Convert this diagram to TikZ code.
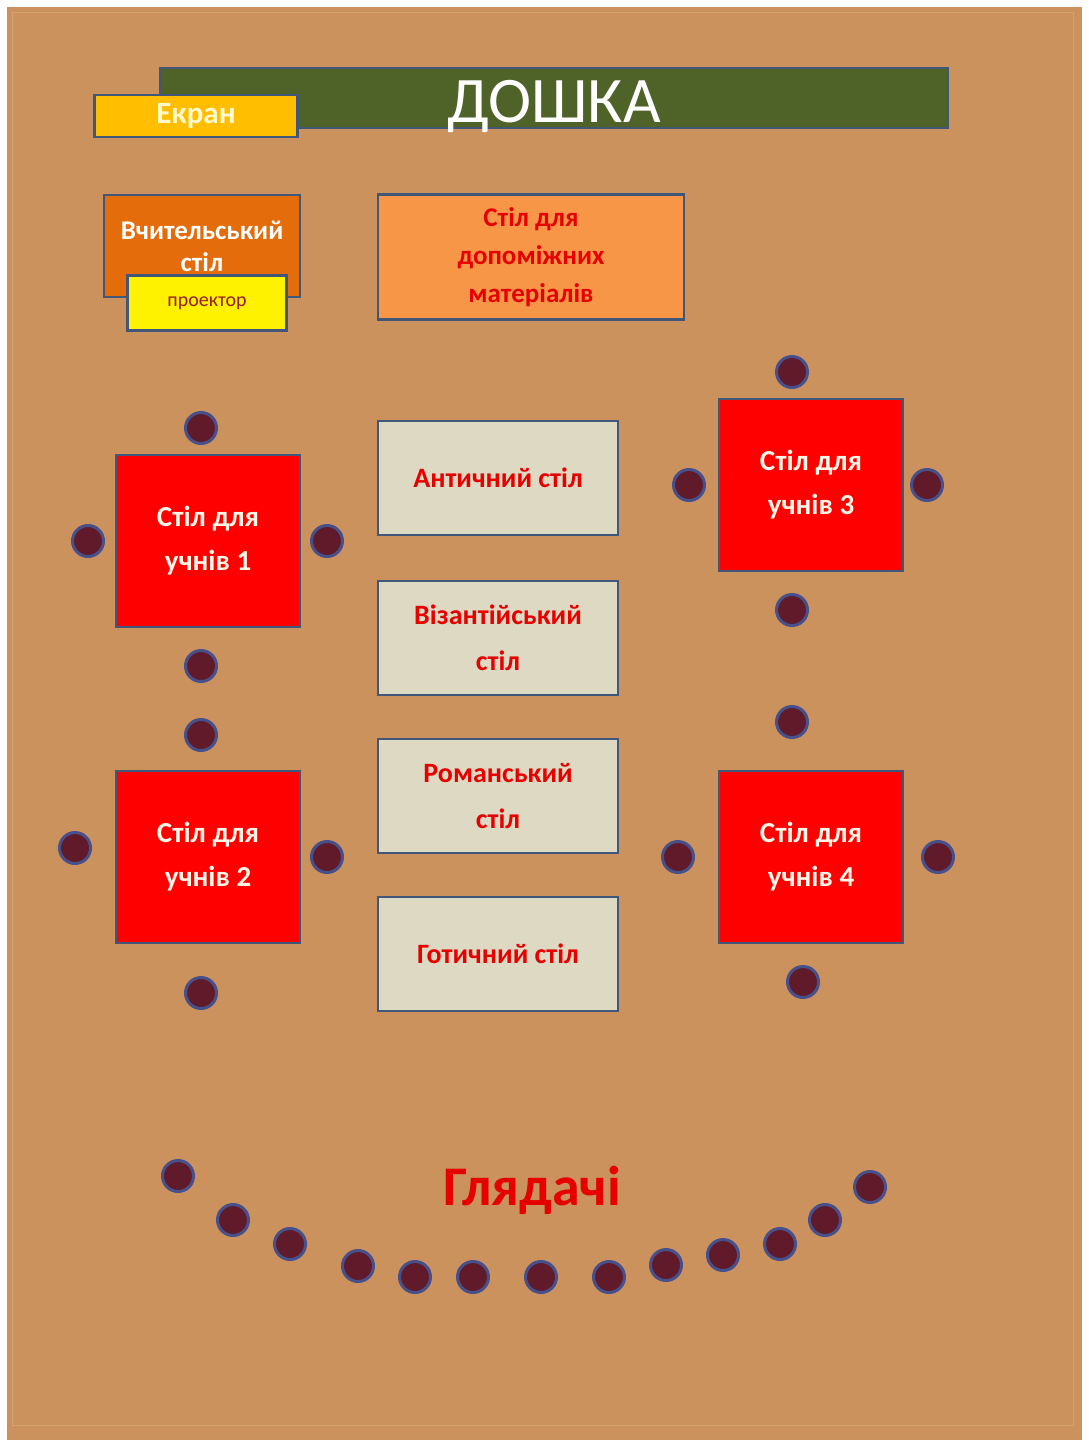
\documentclass[tikz,border=0pt]{standalone}
\usepackage{fontspec}
\setmainfont{Carlito}
\usepackage{tikz}
\usetikzlibrary{shapes}
\usepackage{xcolor}

\definecolor{cork}{RGB}{203,146,94}
\definecolor{corkline}{RGB}{212,162,112}
\definecolor{boardgreen}{RGB}{79,98,40}
\definecolor{edgeblue}{RGB}{65,87,122}
\definecolor{screenyellow}{RGB}{255,190,0}
\definecolor{teacherorange}{RGB}{228,108,10}
\definecolor{auxorange}{RGB}{247,150,70}
\definecolor{stylebeige}{RGB}{221,217,195}
\definecolor{chairred}{RGB}{96,26,42}
\definecolor{chairblue}{RGB}{70,80,140}
\definecolor{labelred}{RGB}{230,0,0}

\begin{document}
\begin{tikzpicture}[x=1pt,y=-1pt,line width=2.5pt,
  box/.style={rectangle,draw=edgeblue,inner sep=2pt,align=center,font=\bfseries},
  board/.style={box,fill=boardgreen,text=white,minimum width=788,minimum height=60,text height=48,text depth=0,font=\fontsize{65}{65}\selectfont},
  screen/.style={box,fill=screenyellow,text={rgb,255:red,255;green,250;blue,205},minimum width=203,minimum height=42,font=\bfseries\fontsize{31}{31}\selectfont},
  teacher/.style={box,fill=teacherorange,text=white,minimum width=196,minimum height=102,font=\bfseries\fontsize{27}{32}\selectfont},
  projector/.style={box,fill=yellow,text={rgb,255:red,150;green,30;blue,30},minimum width=159,minimum height=55,font=\fontsize{20}{20}\selectfont},
  aux/.style={box,fill=auxorange,text=labelred,minimum width=306,minimum height=125,font=\bfseries\fontsize{27}{38}\selectfont},
  era/.style={box,fill=stylebeige,text=labelred,minimum width=240,minimum height=114,font=\bfseries\fontsize{28}{46}\selectfont},
  pupils/.style={box,fill=red,text={rgb,255:red,255;green,245;blue,230},minimum width=184,minimum height=172,font=\bfseries\fontsize{29}{44}\selectfont},
  chair/.style={circle,fill=chairred,draw=chairblue,line width=3pt,minimum size=31,inner sep=0pt}]

  \useasboundingbox (0,0) rectangle (1088,1446);
  \fill[cork] (7,7) rectangle (1082,1440);
  \draw[corkline,line width=1pt] (12,12) rectangle (1073,1425);

  \node[board]		(board)		at (554,98)	{ДОШКА};
  \node[screen]		(screen)	at (196,116)	{Екран};
  \node[teacher]	(teacher)	at (202,246)	{Вчительський\\стіл};
  \node[projector]	(projector)	at (207,303)	{проектор};
  \node[aux]		(aux)		at (531,257)	{Стіл для\\допоміжних\\матеріалів};

  \node[era]		(antique)	at (498,478)	{Античний стіл};
  \node[era]		(byzantine)	at (498,638)	{Візантійський\\стіл};
  \node[era]		(romanesque)	at (498,796)	{Романський\\стіл};
  \node[era]		(gothic)	at (498,954)	{Готичний стіл};

  \node[pupils]		(pupils1)	at (208,541)	{Стіл для\\учнів 1};
  \node[pupils]		(pupils2)	at (208,857)	{Стіл для\\учнів 2};
  \node[pupils]		(pupils3)	at (811,485)	{Стіл для\\учнів 3};
  \node[pupils]		(pupils4)	at (811,857)	{Стіл для\\учнів 4};

  \node[chair]	(c1n)	at (201,428)	{};
  \node[chair]	(c1w)	at (88,541)	{};
  \node[chair]	(c1e)	at (327,541)	{};
  \node[chair]	(c1s)	at (201,666)	{};
  \node[chair]	(c2n)	at (201,735)	{};
  \node[chair]	(c2w)	at (75,848)	{};
  \node[chair]	(c2e)	at (327,857)	{};
  \node[chair]	(c2s)	at (201,993)	{};
  \node[chair]	(c3n)	at (792,372)	{};
  \node[chair]	(c3w)	at (689,485)	{};
  \node[chair]	(c3e)	at (927,485)	{};
  \node[chair]	(c3s)	at (792,610)	{};
  \node[chair]	(c4n)	at (792,722)	{};
  \node[chair]	(c4w)	at (678,857)	{};
  \node[chair]	(c4e)	at (938,857)	{};
  \node[chair]	(c4s)	at (803,982)	{};

  \node[text=labelred,font=\bfseries\fontsize{56}{56}\selectfont] (audience) at (532,1190) {Глядачі};

  \node[chair]	(a1)	at (178,1176)	{};
  \node[chair]	(a2)	at (233,1220)	{};
  \node[chair]	(a3)	at (290,1244)	{};
  \node[chair]	(a4)	at (358,1266)	{};
  \node[chair]	(a5)	at (415,1277)	{};
  \node[chair]	(a6)	at (473,1277)	{};
  \node[chair]	(a7)	at (541,1277)	{};
  \node[chair]	(a8)	at (609,1277)	{};
  \node[chair]	(a9)	at (666,1265)	{};
  \node[chair]	(a10)	at (723,1255)	{};
  \node[chair]	(a11)	at (780,1244)	{};
  \node[chair]	(a12)	at (825,1220)	{};
  \node[chair]	(a13)	at (870,1187)	{};
\end{tikzpicture}
\end{document}
